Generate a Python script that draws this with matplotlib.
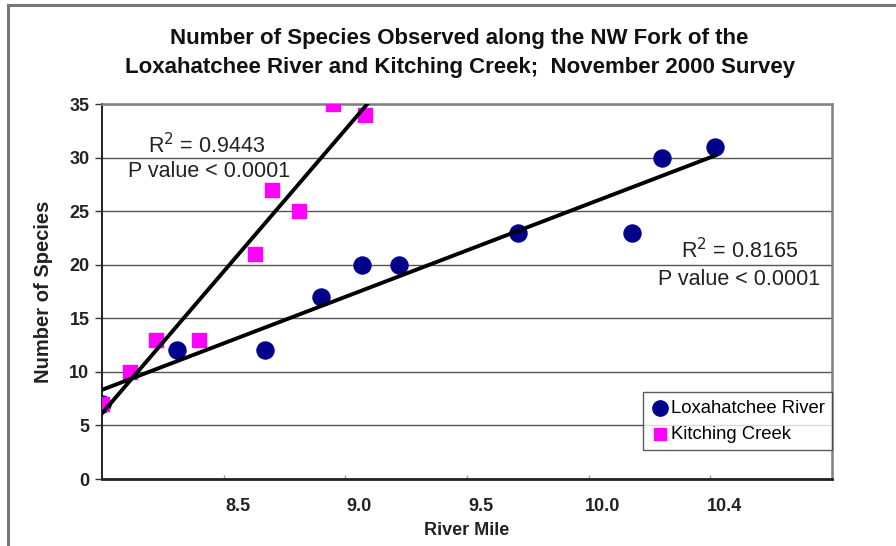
import numpy as np
import matplotlib.pyplot as plt
import matplotlib.transforms as mtransforms
from matplotlib.lines import Line2D

plt.rcParams['font.family'] = ['Liberation Sans', 'DejaVu Sans']

# River mile positions (axis units) and species counts
lox_x = [8.00, 8.31, 8.67, 8.90, 9.07, 9.22, 9.71, 10.18, 10.30, 10.52]
lox_y = [7, 12, 12, 17, 20, 20, 23, 23, 30, 31]
kit_x = [8.00, 8.115, 8.22, 8.40, 8.63, 8.70, 8.81, 8.95, 9.08]
kit_y = [7, 10, 13, 13, 21, 27, 25, 35, 34]

tick_pos = [8.5, 9.0, 9.5, 10.0, 10.5]
tick_labels = ["8.5", "9.0", "9.5", "10.0", "10.4"]

fig = plt.figure(figsize=(8.96, 5.46), dpi=100)
ax = fig.add_axes([0.1138, 0.1227, 0.8148, 0.6868])

# outer frame
fig.add_artist(Line2D([8 / 896, 1.0], [1 - 5 / 546] * 2, color="#777777", lw=2.2))
fig.add_artist(Line2D([8 / 896] * 2, [0, 1 - 5 / 546], color="#777777", lw=2.2))

ax.set_xlim(8.0, 11.0)
ax.set_ylim(0, 35)
ax.set_yticks(range(0, 36, 5))
ax.set_xticks(tick_pos)
ax.set_xticklabels(tick_labels)
ax.yaxis.grid(True, color="#555555", lw=1.0)
ax.set_axisbelow(True)

for s in ["top", "right"]:
    ax.spines[s].set_color("#808080")
    ax.spines[s].set_linewidth(1.8)
ax.spines["left"].set_color("#222222")
ax.spines["bottom"].set_color("#222222")
ax.spines["left"].set_linewidth(1.4)
ax.spines["bottom"].set_linewidth(2.0)
ax.tick_params(axis="y", length=5, width=1, color="#333333", labelsize=13, pad=4)
ax.tick_params(axis="x", length=3, width=1, color="#999999", direction="in",
               labelsize=13, pad=14)
shift = mtransforms.ScaledTranslation(14 / 100, 0, fig.dpi_scale_trans)
for lab in ax.get_xticklabels():
    lab.set_transform(lab.get_transform() + shift)
for lab in ax.get_xticklabels() + ax.get_yticklabels():
    lab.set_fontweight("bold")
    lab.set_color("#222222")

ax.scatter(lox_x, lox_y, s=150, marker="o", color="#00008B", zorder=3,
           label="Loxahatchee River")
ax.scatter(kit_x, kit_y, s=95, marker="s", color="#FF00FF", zorder=3,
           label="Kitching Creek")

# linear trend lines
for xs, ys, x_end in [(lox_x, lox_y, max(lox_x)), (kit_x, kit_y, 9.2)]:
    m, b = np.polyfit(xs, ys, 1)
    xx = np.array([min(xs), x_end])
    ax.plot(xx, m * xx + b, color="black", lw=2.8, zorder=4, clip_on=True)

ax.text(8.43, 31.1, r"R$^2$ = 0.9443", ha="center", va="center", fontsize=15.5,
        color="#222222")
ax.text(8.44, 28.7, "P value < 0.0001", ha="center", va="center", fontsize=15.5,
        color="#222222")
ax.text(10.86, 21.3, r"R$^2$ = 0.8165", ha="right", va="center", fontsize=15.5,
        color="#222222")
ax.text(10.95, 18.6, "P value < 0.0001", ha="right", va="center", fontsize=15.5,
        color="#222222")

leg = ax.legend(loc="lower right", bbox_to_anchor=(1.0, 0.077), fontsize=13.3,
                frameon=True, fancybox=False, edgecolor="#333333",
                handletextpad=0.1, borderpad=0.4, labelspacing=0.5,
                handlelength=1.0, borderaxespad=0, markerscale=0.9)
leg.get_frame().set_linewidth(1.0)

ax.set_ylabel("Number of Species", fontsize=14.5, fontweight="bold", labelpad=12,
              color="#222222")
ax.set_xlabel("River Mile", fontsize=13, fontweight="bold", labelpad=5,
              color="#222222")
fig.text(0.513, 0.903, "Number of Species Observed along the NW Fork of the\n"
         "Loxahatchee River and Kitching Creek;  November 2000 Survey",
         ha="center", va="center", fontsize=16, fontweight="bold",
         linespacing=1.45, color="#111111")

fig.savefig("out.png", dpi=100)
